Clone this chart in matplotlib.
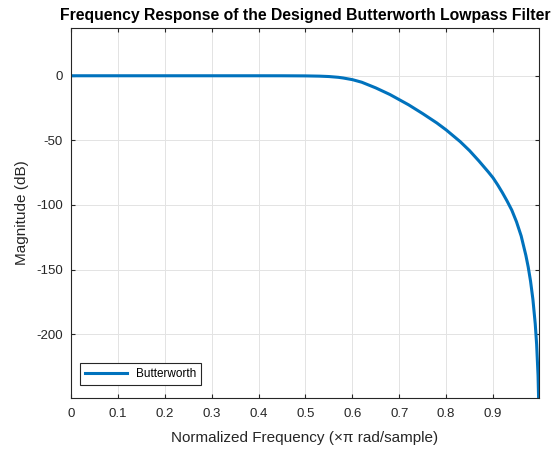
import matplotlib.pyplot as plt

# normalized frequency (x pi rad/sample) and magnitude in dB
freq = [0.0, 0.1, 0.2, 0.3, 0.4, 0.45, 0.5, 0.53, 0.55, 0.57, 0.58, 0.6, 0.62,
        0.65, 0.68, 0.7, 0.72, 0.75, 0.78, 0.8, 0.83, 0.85, 0.87, 0.89, 0.9,
        0.91, 0.92, 0.93, 0.94, 0.95, 0.96, 0.97, 0.975, 0.98, 0.985, 0.99,
        0.993, 0.996, 0.998]
mag_db = [0.0, 0.0, 0.0, 0.0, 0.0, -0.01, -0.1, -0.3, -0.6, -1.2, -1.7, -3.0, -5.0,
          -9.4, -14.5, -18.5, -22.5, -29.3, -36.5, -41.9, -51.0, -58.0, -66.0, -74.5, -79.0,
          -84.5, -90.5, -97.0, -104.0, -113.0, -124.0, -139.0, -148.0, -159.0, -173.0, -192.0,
          -208.0, -232.0, -262.0]

x_ticks = [0, 0.1, 0.2, 0.3, 0.4, 0.5, 0.6, 0.7, 0.8, 0.9]
y_ticks = [0, -50, -100, -150, -200]

plt.rcParams['font.family'] = ['Liberation Sans', 'DejaVu Sans']
plt.rcParams['axes.unicode_minus'] = False

fig = plt.figure(figsize=(5.51, 4.5), dpi=100)
ax = fig.add_axes([0.1289, 0.1162, 0.8493, 0.8208])

ax.plot(freq, mag_db, color='#0072BD', linewidth=2.2, label='Butterworth')

ax.set_xlim(0, 0.998)
ax.set_ylim(-249.2, 36.7)
ax.set_xticks(x_ticks)
ax.set_xticklabels([f"{t:g}" for t in x_ticks])
ax.set_yticks(y_ticks)

ax.grid(True, color='#e3e3e3', linewidth=0.7)
ax.set_axisbelow(True)
ax.tick_params(direction='in', length=3, width=0.8, colors='#262626',
               labelsize=9.5, top=True, right=True)
ax.tick_params(axis='x', pad=7.5)
ax.tick_params(axis='y', pad=6)
for s in ax.spines.values():
    s.set_color('#262626')
    s.set_linewidth(0.8)

ax.set_xlabel('Normalized Frequency (\u00d7\u03c0 rad/sample)', fontsize=11,
              color='#262626', labelpad=8)
ax.set_ylabel('Magnitude (dB)', fontsize=11, color='#262626', labelpad=5)
ax.set_title('Frequency Response of the Designed Butterworth Lowpass Filter',
             fontsize=11.3, fontweight='bold', color='#000000', pad=6)

leg = ax.legend(loc='lower left', fontsize=8.5, fancybox=False, framealpha=1,
                edgecolor='#262626', handlelength=3.5, borderaxespad=0.8,
                bbox_to_anchor=(0.0, 0.01))
leg.get_frame().set_linewidth(0.8)

fig.savefig('out.png', dpi=100)
